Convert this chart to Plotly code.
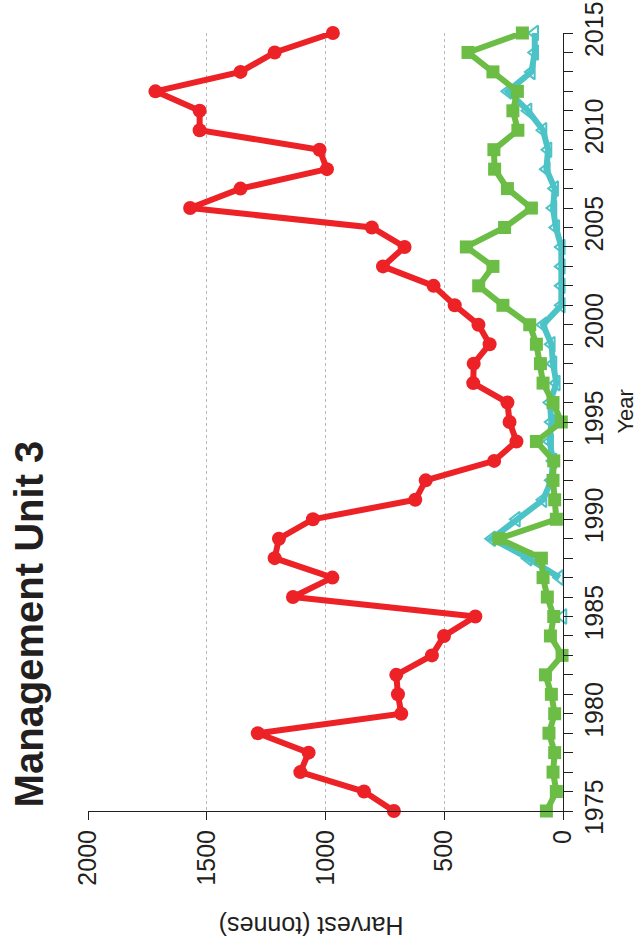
import plotly.graph_objects as go

# --- Data (harvest in tonnes per year) ---
YEARS = list(range(1975, 2016))

RED_HARVEST = [712, 838, 1106, 1071, 1285, 681, 695, 702, 552, 501,
               369, 1137, 971, 1214, 1196, 1053, 622, 578, 290, 196,
               225, 234, 378, 376, 309, 356, 456, 545, 758, 667,
               805, 1570, 1358, 994, 1025, 1530, 1530, 1716, 1358, 1214,
               969]

GREEN_HARVEST = [70, 28, 42, 35, 59, 35, 49, 74, 4, 53,
                 39, 66, 84, 91, 270, 28, 35, 42, 39, 112,
                 7, 42, 84, 95, 112, 140, 253, 355, 295, 407,
                 246, 133, 234, 288, 291, 190, 211, 192, 295, 400,
                 171]

CYAN_HARVEST = [None, None, None, None, None, None, None, None, None, None,
                0, None, 14, 147, 300, 196, 84, 49, 42, 56,
                49, 55, 28, 42, 49, 84, 7, 7, 7, 7,
                30, 42, 35, 70, 63, 84, 147, 232, 133, 119,
                119]

X_TICKS = [0, 500, 1000, 1500, 2000]
Y_TICKS = [1975, 1980, 1985, 1990, 1995, 2000, 2005, 2010, 2015]

RED = '#ec2227'
GREEN = '#6bbd45'
CYAN = '#4cc3c7'
INK = '#231f20'
FONT = 'Liberation Sans, Arial, sans-serif'

fig = go.Figure()

fig.add_trace(go.Scatter(
    x=RED_HARVEST, y=YEARS, mode='lines+markers', cliponaxis=False,
    line=dict(color=RED, width=6),
    marker=dict(color=RED, size=14, symbol='circle'),
))
fig.add_trace(go.Scatter(
    x=CYAN_HARVEST, y=YEARS, mode='lines+markers', cliponaxis=False,
    line=dict(color=CYAN, width=6),
    marker=dict(color=CYAN, size=13, symbol='triangle-left-open',
                line=dict(color=CYAN, width=2)),
))
fig.add_trace(go.Scatter(
    x=GREEN_HARVEST, y=YEARS, mode='lines+markers', cliponaxis=False,
    line=dict(color=GREEN, width=6),
    marker=dict(color=GREEN, size=13, symbol='square'),
))

# chart is drawn rotated: harvest runs right-to-left, years bottom-to-top
fig.update_layout(
    width=637, height=941,
    margin=dict(l=88, r=74, t=33, b=130),
    paper_bgcolor='white', plot_bgcolor='white',
    showlegend=False,
    font=dict(family=FONT, size=25, color=INK),
    xaxis=dict(
        range=[2000, 0], tickvals=X_TICKS, tickangle=-90, automargin=False,
        ticklabeloverflow='allow',
        showline=True, linecolor=INK, linewidth=1,
        ticks='outside', ticklen=8, tickcolor=INK,
        showgrid=True, gridcolor='#b8b8b8', griddash='dot', gridwidth=1,
        zeroline=False,
        tickfont=dict(size=25, color=INK),
    ),
    yaxis=dict(
        range=[1975, 2015], tickvals=Y_TICKS, tickangle=-90, side='right',
        automargin=False, ticklabeloverflow='allow',
        showline=True, linecolor=INK, linewidth=1,
        ticks='outside', ticklen=9, tickcolor=INK,
        minor=dict(dtick=1, ticks='outside', ticklen=9, tickcolor=INK),
        showgrid=False, zeroline=False,
        tickfont=dict(size=25, color=INK),
    ),
    annotations=[
        dict(text='<b>Management Unit 3</b>', textangle=-90,
             xref='paper', yref='paper', x=-0.124, y=0.24,
             xanchor='center', yanchor='middle', showarrow=False,
             font=dict(size=40, color=INK, family=FONT)),
        dict(text='Harvest (tonnes)', textangle=180,
             xref='paper', yref='paper', x=0.469, y=-0.147,
             xanchor='center', yanchor='middle', showarrow=False,
             font=dict(size=25, color=INK, family=FONT)),
        dict(text='Year', textangle=-90,
             xref='paper', yref='paper', x=1.132, y=0.513,
             xanchor='center', yanchor='middle', showarrow=False,
             font=dict(size=22, color=INK, family=FONT)),
    ],
)

# drop the page's default body margin so the figure sits at the window corner
fig.write_html('out.html', config={'displayModeBar': False},
               post_script="document.body.style.margin = '0';")
